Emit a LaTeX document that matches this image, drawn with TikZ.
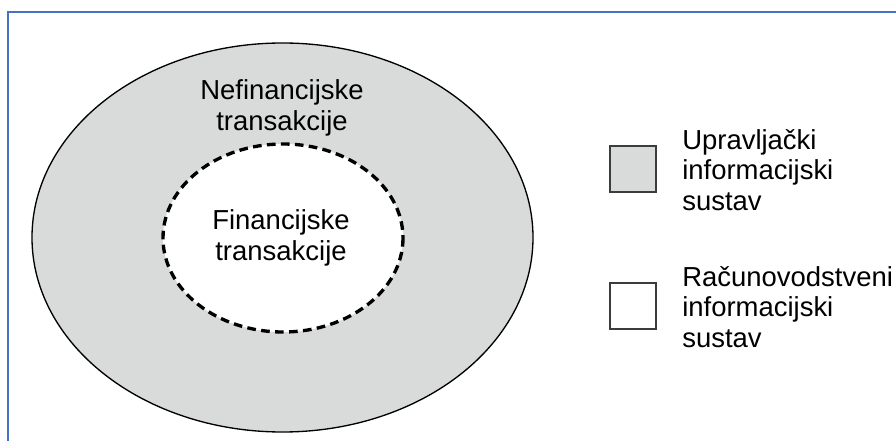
\documentclass[tikz,border=0pt]{standalone}
\usepackage{fontspec}
\setmainfont{Liberation Sans}
\usepackage{tikz}

\definecolor{sysgray}{RGB}{217,219,218}
\definecolor{framblue}{RGB}{68,114,196}

\begin{document}
\begin{tikzpicture}[x=0.75pt,y=0.75pt,yscale=-1,xscale=1,
    lbl/.style={inner sep=0pt, font=\fontsize{20.6}{23}\selectfont},
    keybox/.style={draw={rgb, 255:red, 60; green, 60; blue, 60 }, line width=1.2, minimum width=34.5pt, minimum height=34.5pt, inner sep=0pt}]
    \useasboundingbox (0,0) rectangle (896,441);
    %Frame
    \draw [color=framblue, line width=1.5] (8,441) -- (8,12) -- (896,12) ;
    %Outer ellipse
    \draw [fill=sysgray, line width=1] (282.5,237.5) ellipse [x radius=250.5, y radius=194.5] ;
    %Inner ellipse (dashed)
    \draw [fill=white, line width=2.5, dash pattern=on 6.5pt off 4pt] (283,238) ellipse [x radius=120, y radius=94] ;
    % Text Node
    \node [lbl, align=center] (nefin) at (282,108) {Nefinancijske\\transakcije};
    % Text Node
    \node [lbl, align=center] (fin) at (281,238) {Financijske\\transakcije};
    %Legend
    \node [keybox, fill=sysgray] (keyUis) at (633,169) {};
    \node [keybox, fill=white] (keyRis) at (633,306) {};
    \node [lbl, align=left, anchor=west] (txtUis) at (682,170) {Upravljački\\informacijski\\sustav};
    \node [lbl, align=left, anchor=west] (txtRis) at (682,307) {Računovodstveni\\informacijski\\sustav};
\end{tikzpicture}
\end{document}
